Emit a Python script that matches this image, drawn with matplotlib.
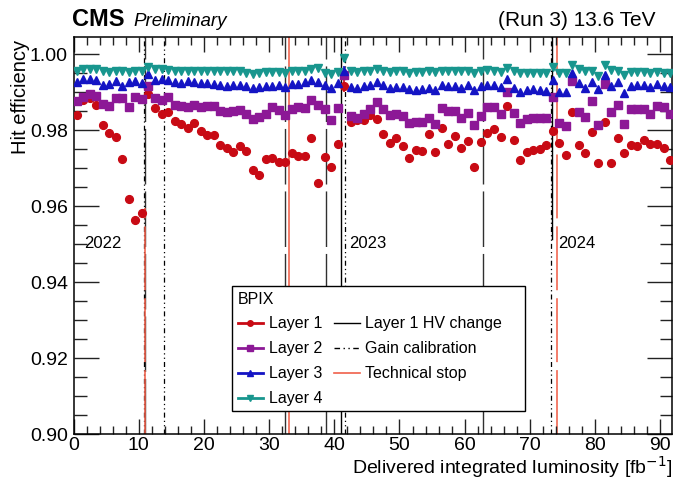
import matplotlib
matplotlib.use("Agg")
import matplotlib.pyplot as plt
from matplotlib.lines import Line2D
from matplotlib.patches import Rectangle
from matplotlib.ticker import MultipleLocator

plt.rcParams['font.family'] = ['Liberation Sans', 'DejaVu Sans']

lumi = [0.5, 1.5, 2.5, 3.5, 4.5, 5.5, 6.5, 7.5, 8.5, 9.5,
        10.5, 11.5, 12.5, 13.5, 14.5, 15.5, 16.5, 17.5, 18.5, 19.5,
        20.5, 21.5, 22.5, 23.5, 24.5, 25.5, 26.5, 27.5, 28.5, 29.5,
        30.5, 31.5, 32.5, 33.5, 34.5, 35.5, 36.5, 37.5, 38.5, 39.5,
        40.5, 41.5, 42.5, 43.5, 44.5, 45.5, 46.5, 47.5, 48.5, 49.5,
        50.5, 51.5, 52.5, 53.5, 54.5, 55.5, 56.5, 57.5, 58.5, 59.5,
        60.5, 61.5, 62.5, 63.5, 64.5, 65.5, 66.5, 67.5, 68.5, 69.5,
        70.5, 71.5, 72.5, 73.5, 74.5, 75.5, 76.5, 77.5, 78.5, 79.5,
        80.5, 81.5, 82.5, 83.5, 84.5, 85.5, 86.5, 87.5, 88.5, 89.5,
        90.5, 91.5]

layer1 = [0.9839, 0.9880, 0.9886, 0.9867, 0.9814, 0.9794, 0.9783, 0.9725, 0.9620, 0.9564,
          0.9582, 0.9895, 0.9858, 0.9843, 0.9847, 0.9825, 0.9816, 0.9805, 0.9820, 0.9797,
          0.9788, 0.9788, 0.9761, 0.9754, 0.9744, 0.9759, 0.9746, 0.9696, 0.9682, 0.9724,
          0.9728, 0.9716, 0.9716, 0.9739, 0.9733, 0.9733, 0.9781, 0.9662, 0.9731, 0.9703,
          0.9763, 0.9917, 0.9823, 0.9827, 0.9827, 0.9840, 0.9829, 0.9789, 0.9767, 0.9781,
          0.9759, 0.9726, 0.9748, 0.9746, 0.9789, 0.9742, 0.9807, 0.9763, 0.9785, 0.9753,
          0.9772, 0.9704, 0.9770, 0.9794, 0.9803, 0.9783, 0.9864, 0.9775, 0.9723, 0.9744,
          0.9748, 0.9751, 0.9760, 0.9798, 0.9766, 0.9735, 0.9847, 0.9761, 0.9741, 0.9796,
          0.9714, 0.9823, 0.9714, 0.9780, 0.9741, 0.9760, 0.9759, 0.9774, 0.9765, 0.9765,
          0.9753, 0.9722]

layer2 = [0.9878, 0.9888, 0.9895, 0.9891, 0.9869, 0.9865, 0.9886, 0.9886, 0.9860, 0.9888,
          0.9882, 0.9917, 0.9884, 0.9880, 0.9888, 0.9867, 0.9863, 0.9862, 0.9867, 0.9860,
          0.9863, 0.9864, 0.9852, 0.9848, 0.9851, 0.9854, 0.9843, 0.9830, 0.9836, 0.9842,
          0.9862, 0.9854, 0.9839, 0.9855, 0.9862, 0.9858, 0.9880, 0.9867, 0.9855, 0.9827,
          0.9858, 0.9945, 0.9838, 0.9832, 0.9842, 0.9855, 0.9874, 0.9856, 0.9841, 0.9843,
          0.9838, 0.9820, 0.9823, 0.9821, 0.9832, 0.9817, 0.9858, 0.9852, 0.9850, 0.9832,
          0.9845, 0.9814, 0.9838, 0.9860, 0.9862, 0.9843, 0.9902, 0.9846, 0.9818, 0.9829,
          0.9833, 0.9833, 0.9832, 0.9887, 0.9820, 0.9811, 0.9930, 0.9847, 0.9834, 0.9878,
          0.9814, 0.9923, 0.9849, 0.9867, 0.9816, 0.9855, 0.9856, 0.9856, 0.9843, 0.9864,
          0.9860, 0.9843]

layer3 = [0.9928, 0.9934, 0.9934, 0.9933, 0.9919, 0.9923, 0.9929, 0.9917, 0.9928, 0.9929,
          0.9925, 0.9948, 0.9933, 0.9934, 0.9933, 0.9928, 0.9925, 0.9930, 0.9928, 0.9925,
          0.9925, 0.9923, 0.9920, 0.9917, 0.9919, 0.9919, 0.9917, 0.9911, 0.9913, 0.9916,
          0.9917, 0.9919, 0.9915, 0.9923, 0.9923, 0.9926, 0.9933, 0.9928, 0.9919, 0.9911,
          0.9924, 0.9957, 0.9913, 0.9911, 0.9916, 0.9919, 0.9928, 0.9919, 0.9912, 0.9915,
          0.9913, 0.9908, 0.9906, 0.9908, 0.9911, 0.9906, 0.9919, 0.9916, 0.9916, 0.9911,
          0.9919, 0.9906, 0.9916, 0.9919, 0.9919, 0.9913, 0.9936, 0.9912, 0.9902, 0.9906,
          0.9908, 0.9906, 0.9904, 0.9933, 0.9902, 0.9902, 0.9952, 0.9925, 0.9912, 0.9928,
          0.9908, 0.9946, 0.9916, 0.9928, 0.9897, 0.9916, 0.9920, 0.9919, 0.9913, 0.9923,
          0.9917, 0.9913]

layer4 = [0.9956, 0.9961, 0.9961, 0.9961, 0.9955, 0.9954, 0.9956, 0.9957, 0.9954, 0.9957,
          0.9955, 0.9967, 0.9961, 0.9961, 0.9959, 0.9956, 0.9956, 0.9956, 0.9956, 0.9955,
          0.9955, 0.9955, 0.9955, 0.9955, 0.9955, 0.9955, 0.9952, 0.9949, 0.9952, 0.9954,
          0.9954, 0.9954, 0.9951, 0.9955, 0.9956, 0.9956, 0.9961, 0.9965, 0.9952, 0.9949,
          0.9954, 0.9989, 0.9955, 0.9954, 0.9955, 0.9957, 0.9961, 0.9956, 0.9954, 0.9955,
          0.9955, 0.9952, 0.9954, 0.9954, 0.9955, 0.9954, 0.9957, 0.9956, 0.9956, 0.9955,
          0.9956, 0.9951, 0.9956, 0.9959, 0.9956, 0.9954, 0.9964, 0.9955, 0.9951, 0.9952,
          0.9952, 0.9952, 0.9952, 0.9966, 0.9951, 0.9950, 0.9971, 0.9960, 0.9957, 0.9956,
          0.9943, 0.9971, 0.9958, 0.9955, 0.9946, 0.9954, 0.9953, 0.9953, 0.9951, 0.9953,
          0.9951, 0.9951]

# uncertainty only visible on the low-statistics point at 41.5 fb^-1
err_index = 41
err1 = 0.0015
err2 = 0.0008
err3 = 0.0013
err4 = 0.0009

year_lumi = [41.1, 73.4]
year_bottom = [0.0, 0.49]
year_labels = ['2022', '2023', '2024']
year_label_lumi = [1.6, 42.2, 74.3]
hv_lumi = [11.0, 32.5, 38.7, 62.8]
gain_lumi = [10.8, 13.9, 41.7, 73.2]
tech_lumi = [11.0, 33.0, 74.1]
tech_top = [0.57, 1.0, 1.0]

layer_names = ['Layer 1', 'Layer 2', 'Layer 3', 'Layer 4']
colors = ['#c80a14', '#8c1896', '#1414c4', '#18968e']
markers = ['o', 's', '^', 'v']
msizes = [5.6, 5.3, 5.6, 5.6]
series = [layer1, layer2, layer3, layer4]
errs = [err1, err2, err3, err4]

fig = plt.figure(figsize=(6.73, 4.78), dpi=100)
ax = fig.add_axes([73.5 / 673, 43.7 / 478, 598.5 / 673, 397.6 / 478])

hv_style = (0, (40, 5))
gain_style = (0, (4, 2.5, 1, 2.5, 1, 2.5))
tech_color = '#f0604a'

for xv in hv_lumi:
    ax.axvline(xv, color='#303030', lw=1.0, ls=hv_style, zorder=1)
for xv, yb in zip(year_lumi, year_bottom):
    ax.axvline(xv, ymin=yb, ymax=1.0, color='black', lw=1.0, ls='-', zorder=1)
for xv in gain_lumi:
    ax.axvline(xv, color='black', lw=0.9, ls=gain_style, zorder=1)
for xv, top in zip(tech_lumi, tech_top):
    ls = '-' if top == 1.0 and xv < 40 else hv_style
    ax.axvline(xv, ymin=0, ymax=top, color=tech_color, lw=1.15, ls=ls, zorder=1.5)

for vals, col, mk, ms, e in zip(series, colors, markers, msizes, errs):
    ax.plot(lumi, vals, ls='none', marker=mk, ms=ms, color=col, mec=col, zorder=3)
    ax.errorbar([lumi[err_index]], [vals[err_index]], yerr=[e], fmt='none',
                ecolor=col, elinewidth=1.2, capsize=0, zorder=3)

for xv, lab in zip(year_label_lumi, year_labels):
    ax.text(xv, 0.949, lab, fontsize=12, ha='left', va='baseline', zorder=4)

ax.set_xlim(0, 91.8)
ax.set_ylim(0.90, 1.00463)
ax.xaxis.set_major_locator(MultipleLocator(10))
ax.xaxis.set_minor_locator(MultipleLocator(2))
ax.yaxis.set_minor_locator(MultipleLocator(0.005))
ax.set_yticks([0.90, 0.92, 0.94, 0.96, 0.98, 1.00])
ax.set_yticklabels(['0.90', '0.92', '0.94', '0.96', '0.98', '1.00'])
ax.tick_params(axis='both', which='both', direction='in', top=True, right=True,
               width=1.0, color='#222222')
ax.tick_params(axis='y', which='major', length=18, pad=4.0, labelsize=14)
ax.tick_params(axis='y', which='minor', length=9)
ax.tick_params(axis='x', which='major', length=11, pad=2.0, labelsize=14)
ax.tick_params(axis='x', which='minor', length=5.5)
for sp in ax.spines.values():
    sp.set_linewidth(1.1)

fig.text(21 / 673, 1 - 40 / 478, 'Hit efficiency', rotation=90, fontsize=14.5,
         ha='center', va='top')
fig.text(0.999, 4.5 / 478, 'Delivered integrated luminosity [fb$^{-1}$]', fontsize=14,
         ha='right', va='baseline')
fig.text(72 / 673, 1 - 26 / 478, 'CMS', fontsize=17, fontweight='bold',
         ha='left', va='baseline')
fig.text(133 / 673, 1 - 26 / 478, 'Preliminary', fontsize=13.5, style='italic',
         ha='left', va='baseline')
fig.text(655 / 673, 1 - 26 / 478, '(Run 3) 13.6 TeV', fontsize=15,
         ha='right', va='baseline')

# legend frame
ax.add_patch(Rectangle((0.2648, 0.0586), 0.7544 - 0.2648, 0.373 - 0.0586,
                       transform=ax.transAxes, facecolor='white', edgecolor='black',
                       lw=1.0, zorder=4.5))

handles = []
for col, mk, name in zip(colors, markers, layer_names):
    handles.append(Line2D([], [], color=col, marker=mk, ms=4, lw=2, label=name))
handles.append(Line2D([], [], color='black', lw=1, label='Layer 1 HV change'))
handles.append(Line2D([], [], color='black', lw=1, ls=(0, (4, 2.5, 1, 2.5, 1, 2.5)),
                      label='Gain calibration'))
handles.append(Line2D([], [], color=tech_color, lw=1.2, label='Technical stop'))

leg = ax.legend(handles=handles, ncol=2, title='BPIX', loc='upper left',
                bbox_to_anchor=(0.2648, 0.373), fontsize=11.5, title_fontsize=11.5,
                frameon=False, handlelength=1.6, handletextpad=0.35,
                columnspacing=0.75, labelspacing=0.62, borderpad=0.35,
                alignment='left', borderaxespad=0)
leg.set_zorder(5)

fig.savefig('out.png', dpi=100)
